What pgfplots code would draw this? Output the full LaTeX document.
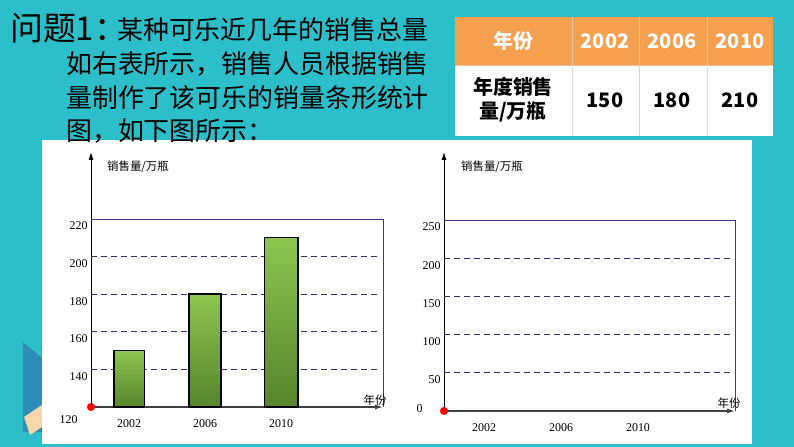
\documentclass[border=0pt]{standalone}
\usepackage{pgfplots}
\pgfplotsset{compat=1.18}
\usepackage{fontspec}
\setmainfont{Liberation Serif}
\newfontfamily\cjk{Noto Sans CJK SC}
\usetikzlibrary{arrows.meta}
\definecolor{bg}{RGB}{44,191,202}
\definecolor{hdr}{RGB}{245,160,78}
\definecolor{boxblue}{RGB}{60,55,150}
\definecolor{gridc}{RGB}{50,50,105}
\definecolor{gtop}{RGB}{140,198,80}
\definecolor{gbot}{RGB}{86,132,44}
\definecolor{sep}{RGB}{232,196,160}
\definecolor{tri}{RGB}{47,140,184}
\definecolor{ruler}{RGB}{246,214,170}

\pgfplotsset{
  salesaxis/.style={
    scale only axis, clip=false,
    axis lines=left,
    axis line style={line width=0.9bp, -{Latex[length=8bp,width=5bp]}},
    x axis line style={line width=1.3bp, black!75},
    major tick length=0pt,
    xtick={1,2,3}, xticklabels={2002,2006,2010},
    tick label style={font=\fontsize{12}{14}\selectfont},
    /pgf/number format/assume math mode=true,
    yticklabel style={yshift=-7bp},
    xticklabel style={yshift=-9bp},
  },
  barsty/.style={draw=black, line width=1.4bp, top color=gtop, bottom color=gbot},
}
\tikzset{gridsty/.style={gridc, dash pattern=on 6bp off 4bp, line width=0.8bp}}

\begin{document}
\begin{tikzpicture}[x=1bp,y=1bp]
\fill[bg] (0,0) rectangle (794,447);
\useasboundingbox (0,0) rectangle (794,447);
% white panel and corner decoration
\fill[tri] (23,105) -- (42,89) -- (42,15) -- (23,15) -- cycle;
\fill[ruler] (24,30) -- (42,42) -- (42,20) -- (30,12) -- cycle;
\fill[white] (42,3) rectangle (752,307);

% question text
\node[anchor=west, inner sep=0] at (10,419) {\cjk\fontsize{33}{36}\selectfont 问题1：};
\begin{scope}[every node/.style={anchor=west, inner sep=0, font={\cjk\fontsize{26}{28}\selectfont}}]
\node at (117,417) {某种可乐近几年的销售总量};
\node at (66,383) {如右表所示，销售人员根据销售};
\node at (66,349) {量制作了该可乐的销量条形统计};
\node at (66,316) {图，如下图所示：};
\end{scope}

% table
\fill[hdr] (455,430) rectangle (773,382);
\fill[white] (455,382) rectangle (773,311);
\foreach \xx in {572,639,707} {
  \draw[sep, line width=0.6bp] (\xx,430) -- (\xx,382);
  \draw[black!15, line width=0.6bp] (\xx,382) -- (\xx,311);
}
\draw[sep, line width=0.6bp] (455,382) -- (773,382);
\begin{scope}[every node/.style={font={\cjk\bfseries\fontsize{20}{24}\selectfont}, align=center}]
\node[white] at (513,406) {年份};
\node[white] at (605,406) {2002};
\node[white] at (672,406) {2006};
\node[white] at (740,406) {2010};
\node at (513,347) {年度销售\\量/万瓶};
\node at (605,347) {150};
\node at (672,347) {180};
\node at (740,347) {210};
\end{scope}

% left chart: drawn bars
\begin{axis}[salesaxis, at={(91bp,40bp)}, anchor=south west,
    width=292bp, height=255bp,
    xmin=0.5, xmax=4.34, ymin=120, ymax=255.6,
    ytick={140,160,...,220},
    extra y ticks={120},
    extra y tick style={yticklabel style={yshift=-6bp, xshift=-10bp}}]
  \foreach \yy in {140,160,180,200} {
    \edef\tmp{\noexpand\draw[gridsty] (axis cs:0.5,\yy) -- (axis cs:4.28,\yy);}\tmp
  }
  \draw[boxblue, line width=0.8bp] (axis cs:0.5,220) -- (axis cs:4.34,220) -- (axis cs:4.34,120);
  % 2002, 2006, 2010
  \addplot[barsty] coordinates {(0.8,120) (0.8,150) (1.2,150) (1.2,120)} -- cycle;
  \addplot[barsty] coordinates {(1.79,120) (1.79,180) (2.21,180) (2.21,120)} -- cycle;
  \addplot[barsty] coordinates {(2.78,120) (2.78,210) (3.22,210) (3.22,120)} -- cycle;
  \addplot[only marks, mark=*, mark size=3.8bp, red] coordinates {(0.5,120)};
\end{axis}

% right chart: empty grid
\begin{axis}[salesaxis, at={(444bp,36bp)}, anchor=south west,
    width=291bp, height=259bp,
    xmin=0.48, xmax=4.26, ymin=0, ymax=339,
    ytick={50,100,...,250},
    extra y ticks={0},
    extra y tick style={yticklabel style={yshift=9bp, xshift=-18bp}}]
  \foreach \yy in {50,100,150,200} {
    \edef\tmp{\noexpand\draw[gridsty] (axis cs:0.48,\yy) -- (axis cs:4.2,\yy);}\tmp
  }
  \draw[boxblue, line width=0.8bp] (axis cs:0.48,250) -- (axis cs:4.26,250) -- (axis cs:4.26,0);
  \addplot[only marks, mark=*, mark size=3.8bp, red] coordinates {(0.48,0)};
\end{axis}

% axis titles
\begin{scope}[every node/.style={font={\cjk\fontsize{11.5}{13}\selectfont}}]
\node at (138,280) {销售量/万瓶};
\node at (492,280) {销售量/万瓶};
\node at (375,47) {年份};
\node at (729,44) {年份};
\end{scope}
\end{tikzpicture}
\end{document}
